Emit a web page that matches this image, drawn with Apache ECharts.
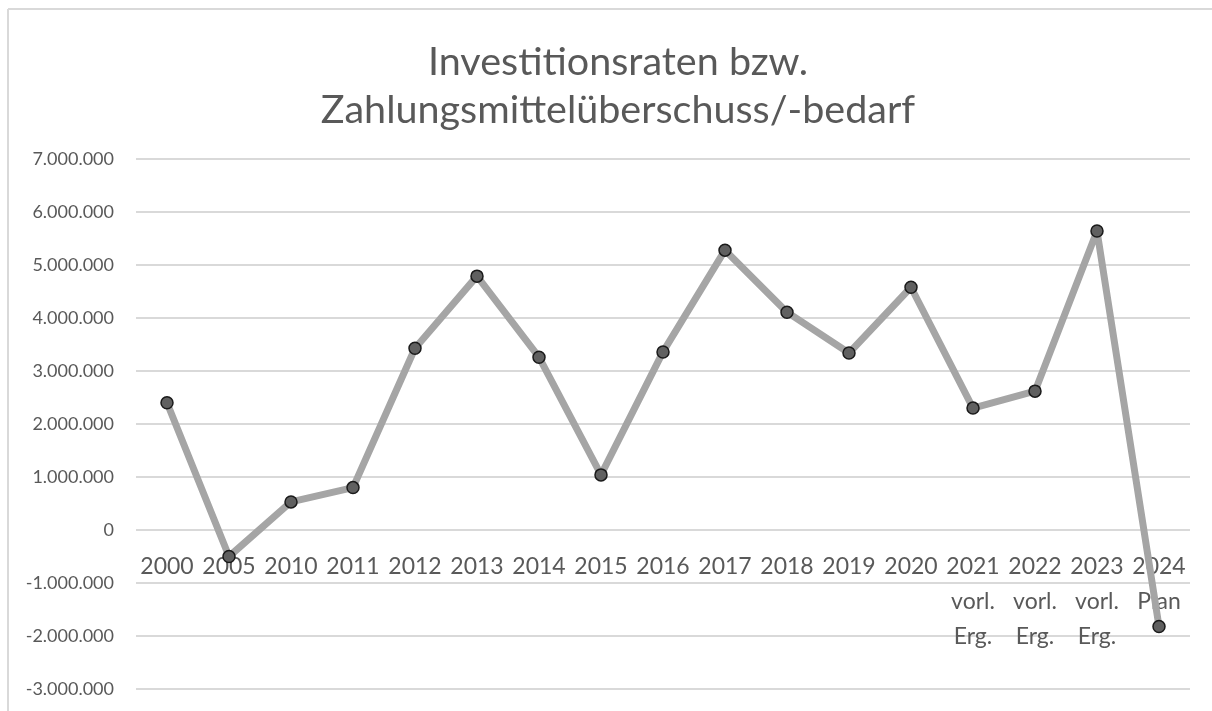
<!DOCTYPE html>
<html>
<head>
<meta charset="utf-8">
<script src="https://cdn.jsdelivr.net/npm/echarts@6/dist/echarts.min.js"></script>
<style>
  html, body { margin: 0; padding: 0; background: #fff; }
  #chart { width: 1212px; height: 711px; }
</style>
</head>
<body>
<div id="chart"></div>
<script>
// Jahre (mit Zusatz für vorläufige Ergebnisse / Plan)
const categories = [
  '2000', '2005', '2010', '2011', '2012', '2013', '2014', '2015', '2016',
  '2017', '2018', '2019', '2020', '2021\nvorl.\nErg.', '2022\nvorl.\nErg.',
  '2023\nvorl.\nErg.', '2024\nPlan'
]
// Investitionsraten bzw. Zahlungsmittelüberschuss/-bedarf (Euro)
const values = [
  2400000, -500000, 530000, 800000, 3430000, 4790000, 3260000, 1040000, 3360000,
  5280000, 4110000, 3340000, 4580000, 2300000, 2620000, 5640000, -1820000
]
// Y-Achse
const yMin = -3000000
const yMax = 7000000
const yStep = 1000000

const textGray = '#595959'
const font = 'Lato, "Open Sans", sans-serif'

// Tausenderpunkte wie im Original
function fmt (v) {
  const s = String(Math.abs(v)).replace(/\B(?=(\d{3})+(?!\d))/g, '.')
  return (v < 0 ? '-' : '') + s
}

const chart = echarts.init(document.getElementById('chart'))
chart.setOption({
  backgroundColor: '#fff',
  animation: false,
  title: {
    text: 'Investitionsraten bzw.\nZahlungsmittelüberschuss/-bedarf',
    left: 613,
    top: 33,
    textAlign: 'center',
    textStyle: {
      color: textGray,
      fontFamily: font,
      fontWeight: 'normal',
      fontSize: 39.5,
      lineHeight: 48
    }
  },
  grid: { left: 136, right: 22, top: 159, bottom: 22, outerBoundsMode: 'none' },
  xAxis: {
    type: 'category',
    data: categories,
    axisLine: { show: false },
    axisTick: { show: false },
    // onZero greift hier nicht, daher Beschriftung von unten an die Nulllinie geschoben
    axisLabel: {
      color: textGray,
      fontFamily: font,
      fontSize: 23,
      lineHeight: 35,
      margin: -140,
      interval: 0
    }
  },
  yAxis: {
    type: 'value',
    min: yMin,
    max: yMax,
    interval: yStep,
    axisLine: { show: false },
    axisTick: { show: false },
    splitLine: { lineStyle: { color: '#d9d9d9', width: 2 } },
    axisLabel: {
      color: textGray,
      fontFamily: font,
      fontSize: 18,
      margin: 22,
      formatter: fmt
    }
  },
  series: [{
    type: 'line',
    data: values,
    symbol: 'circle',
    symbolSize: 12,
    lineStyle: { color: '#a5a5a5', width: 7 },
    itemStyle: { color: '#606060', borderColor: '#1a1a1a', borderWidth: 1.5 },
    z: 3
  }],
  // heller Rahmen oben und links
  graphic: [
    { type: 'line', shape: { x1: 8, y1: 9, x2: 1212, y2: 9 }, style: { stroke: '#d9d9d9', lineWidth: 2 } },
    { type: 'line', shape: { x1: 8, y1: 9, x2: 8, y2: 711 }, style: { stroke: '#d9d9d9', lineWidth: 2 } }
  ]
})
</script>
</body>
</html>
